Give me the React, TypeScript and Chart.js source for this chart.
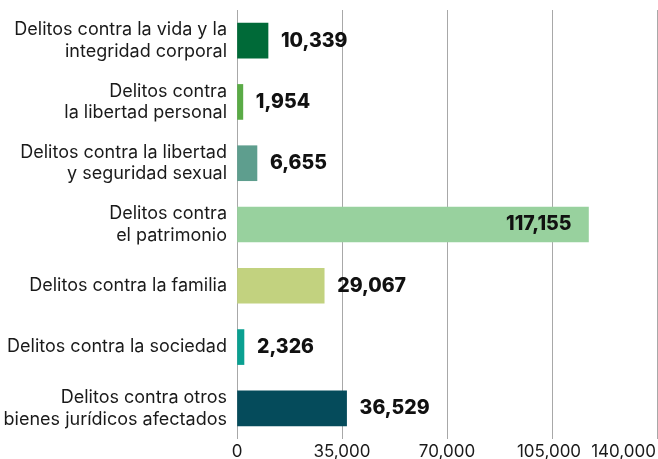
import React, { useEffect, useRef } from "react";
import { Chart, registerables } from "chart.js";

Chart.register(...registerables);

const categories: (string | string[])[] = [
  ["Delitos contra la vida y la", "integridad corporal"],
  ["Delitos contra", "la libertad personal"],
  ["Delitos contra la libertad", "y seguridad sexual"],
  ["Delitos contra", "el patrimonio"],
  "Delitos contra la familia",
  "Delitos contra la sociedad",
  ["Delitos contra otros", "bienes jurídicos afectados"],
];

const values: number[] = [10339, 1954, 6655, 117155, 29067, 2326, 36529];

const barColors: string[] = [
  "#006a38",
  "#5aab46",
  "#5e9e8e",
  "#98d19e",
  "#c2d27f",
  "#0aa091",
  "#054b5b",
];

const xTicks: number[] = [0, 35000, 70000, 105000, 140000];
const xTickLabels: string[] = ["0", "35,000", "70,000", "105,000", "140,000"];

const fmt = (v: number) => v.toLocaleString("en-US");

const TEXT_FONT = "Inter, 'Noto Sans', sans-serif";

const valueLabelPlugin = {
  id: "valueLabels",
  afterDatasetsDraw(chart: any) {
    const ctx = chart.ctx;
    const meta = chart.getDatasetMeta(0);
    ctx.save();
    ctx.font = `800 19.5px ${TEXT_FONT}`;
    ctx.fillStyle = "#111111";
    ctx.textBaseline = "middle";
    meta.data.forEach((bar: any, i: number) => {
      const v = values[i];
      const text = fmt(v);
      if (v > 100000) {
        ctx.textAlign = "right";
        ctx.fillText(text, bar.x - 17, bar.y);
      } else {
        ctx.textAlign = "left";
        ctx.fillText(text, bar.x + 13, bar.y);
      }
    });
    ctx.restore();
  },
};

const xLabelPlugin = {
  id: "xLabels",
  afterDraw(chart: any) {
    const ctx = chart.ctx;
    const scale = chart.scales.x;
    const area = chart.chartArea;
    ctx.save();
    ctx.font = `400 17px ${TEXT_FONT}`;
    ctx.fillStyle = "#1a1a1a";
    ctx.textBaseline = "top";
    xTicks.forEach((t, i) => {
      const px = scale.getPixelForValue(t);
      if (i === xTicks.length - 1) {
        ctx.textAlign = "right";
        ctx.fillText(xTickLabels[i], area.right - 1, area.bottom + 4);
      } else if (i === xTicks.length - 2) {
        ctx.textAlign = "center";
        ctx.fillText(xTickLabels[i], px - 3, area.bottom + 4);
      } else {
        ctx.textAlign = "center";
        ctx.fillText(xTickLabels[i], px, area.bottom + 4);
      }
    });
    ctx.restore();
  },
};

export default function App() {
  const canvasRef = useRef<HTMLCanvasElement | null>(null);

  useEffect(() => {
    document.body.style.margin = "0";
    const canvas = canvasRef.current;
    if (!canvas) return;
    const chart = new Chart(canvas, {
      type: "bar",
      data: {
        labels: categories as any,
        datasets: [
          {
            data: values,
            backgroundColor: barColors,
            borderWidth: 0,
            barThickness: 35,
          },
        ],
      },
      options: {
        indexAxis: "y",
        responsive: false,
        animation: false,
        layout: { padding: { top: 10, right: 1, left: 0, bottom: 0 } },
        plugins: {
          legend: { display: false },
          tooltip: { enabled: false },
        },
        scales: {
          x: {
            type: "linear",
            min: 0,
            max: 140000,
            afterBuildTicks: (scale: any) => {
              scale.ticks = xTicks.map((v) => ({ value: v }));
            },
            afterFit: (scale: any) => {
              scale.height = 20;
              scale.paddingLeft = 0;
              scale.paddingRight = 0;
            },
            ticks: { display: false },
            grid: {
              color: "#a8a8a8",
              lineWidth: 1,
              drawTicks: false,
            },
            border: { display: false },
          },
          y: {
            afterFit: (scale: any) => {
              scale.width = 237;
              scale.paddingTop = 0;
              scale.paddingBottom = 0;
            },
            ticks: {
              color: "#1a1a1a",
              padding: 10,
              font: { family: TEXT_FONT, size: 18, lineHeight: 1.2 },
            },
            grid: { display: false, drawTicks: false },
            border: { display: false },
          },
        },
      },
      plugins: [valueLabelPlugin, xLabelPlugin],
    });
    return () => chart.destroy();
  }, []);

  return (
    <div style={{ position: "absolute", left: 0, top: 0, width: 658, height: 459 }}>
      <canvas ref={canvasRef} width={658} height={459} />
    </div>
  );
}
